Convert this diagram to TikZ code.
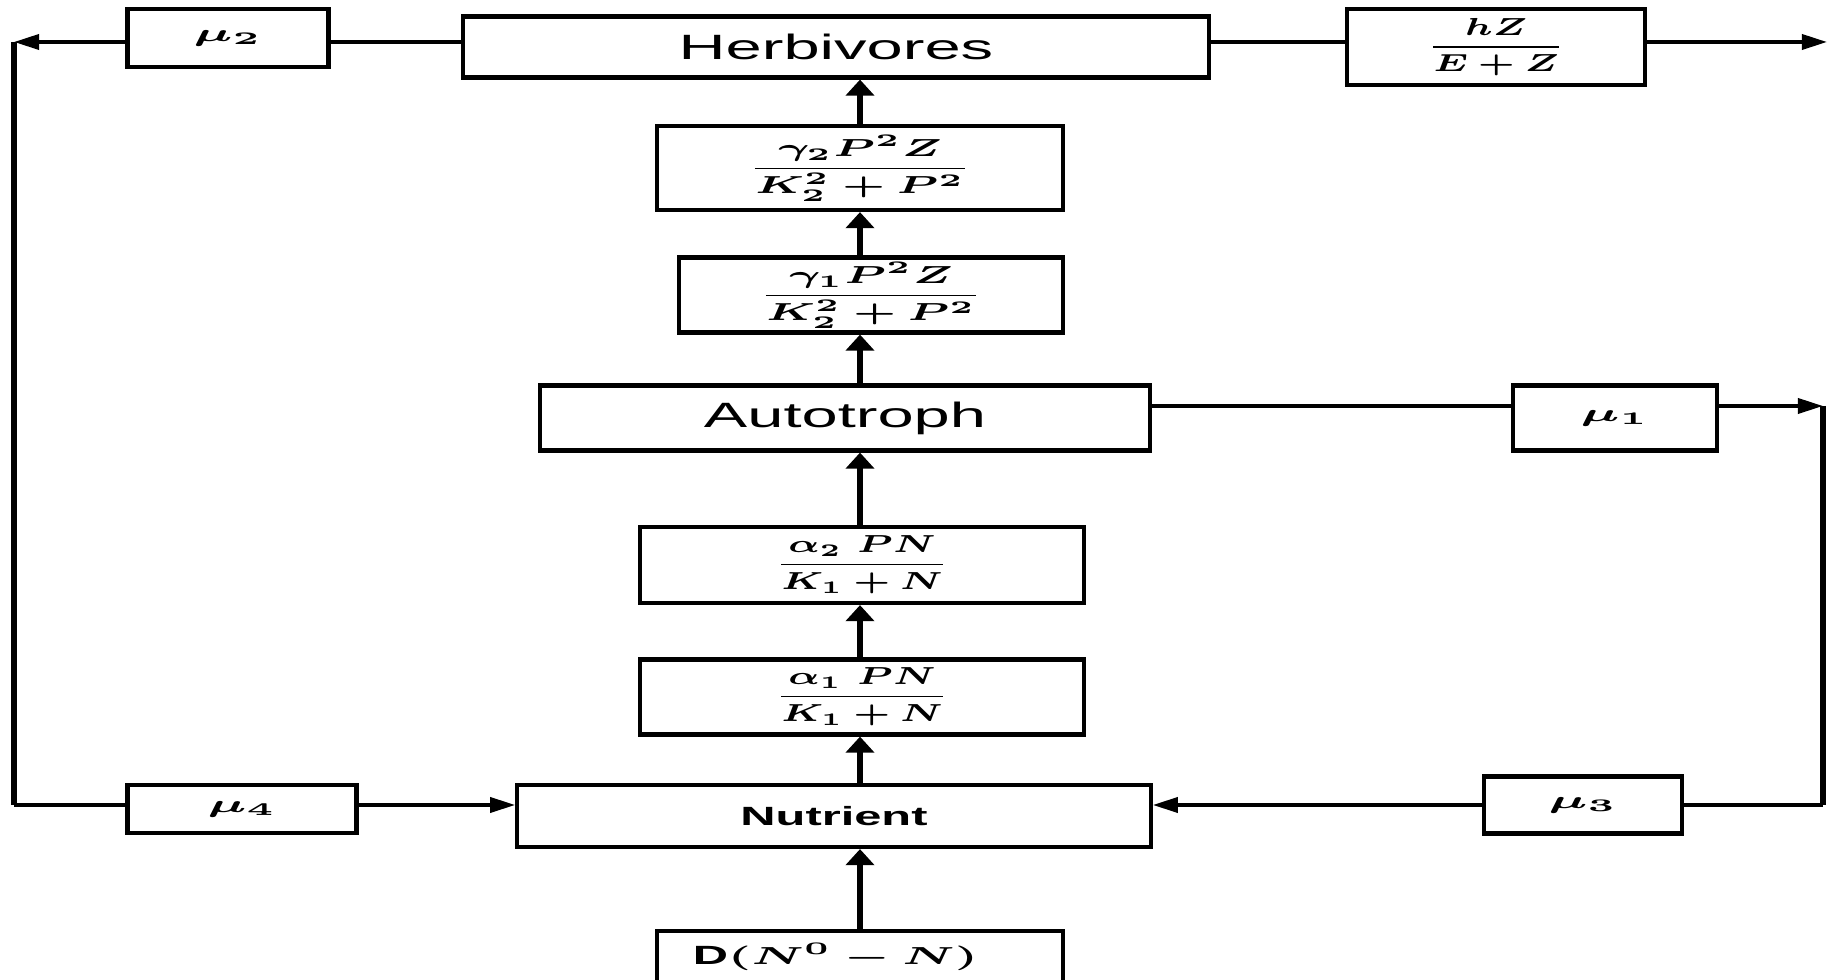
\documentclass[tikz,border=0pt]{standalone}
\usepackage{amsmath}
\usepackage{bm}
\usepackage{graphicx}
\usepackage{fontspec}
\setsansfont{Liberation Sans}
\usetikzlibrary{
    positioning,
    arrows.meta,
    calc
}

% the scan is stretched sideways, so every label is too
\newcommand{\wide}[1]{\scalebox{1.85}[1]{#1}}
\newcommand{\word}[1]{\wide{\fontsize{10}{12}\selectfont\sffamily #1}}
\newcommand{\rate}[2][1.85]{\scalebox{#1}[1]{\fontsize{7}{8}\selectfont$\displaystyle #2$}}

\begin{document}
\begin{tikzpicture}[
    x=0.01cm, y=-0.01cm,
    box/.style={rectangle, draw=black, line width=1.2pt, inner sep=0pt},
    hline/.style={line width=1pt},
    vline/.style={line width=1.5pt},
    harrow/.style={-{Triangle[length=0.25cm, width=0.15cm]}, line width=1pt},
    varrow/.style={-{Triangle[length=0.16cm, width=0.28cm]}, line width=1.5pt}
]
\clip (0,0) rectangle (1829,980);

% ============================================
% TOP ROW
% ============================================
\node[box, minimum width=7.45cm, minimum height=0.61cm] (herb) at (836,47) {\word{Herbivores}};
\node[box, minimum width=2.01cm, minimum height=0.58cm] (mu2) at (228,38) {\rate[2]{\bm{\mu_2}}};
\node[box, minimum width=2.98cm, minimum height=0.76cm] (hz) at (1496,47) {\rate[1.5]{\frac{\bm{hZ}}{\bm{E + Z}}}};

% ============================================
% CENTRAL COLUMN
% ============================================
\node[box, minimum width=4.06cm, minimum height=0.84cm] (g2) at (860,168) {\rate[1.75]{\frac{\bm{\gamma_2 P^2 Z}}{\bm{K_2^2 + P^2}}}};
\node[box, minimum width=3.84cm, minimum height=0.75cm] (g1) at (871,295) {\rate[1.75]{\frac{\bm{\gamma_1 P^2 Z}}{\bm{K_2^2 + P^2}}}};
\node[box, minimum width=6.10cm, minimum height=0.65cm] (auto) at (845,418) {\word{Autotroph}};
\node[box, minimum width=4.43cm, minimum height=0.76cm] (a2) at (862,565) {\rate[1.5]{\frac{\bm{\alpha_2\ PN}}{\bm{K_1 + N}}}};
\node[box, minimum width=4.43cm, minimum height=0.75cm] (a1) at (862,697) {\rate[1.5]{\frac{\bm{\alpha_1\ PN}}{\bm{K_1 + N}}}};
\node[box, minimum width=6.33cm, minimum height=0.62cm] (nutr) at (834,816) {\wide{\fontsize{7.5}{9}\selectfont\sffamily\bfseries Nutrient}};
\node[box, minimum width=4.06cm, minimum height=0.52cm, text width=3.34cm, align=left, inner xsep=0.36cm] (dbox) at (860,957)
    {\wide{\fontsize{7.5}{9}\selectfont\sffamily\bfseries D$\bm{(N^0 - N)}$}};

% ============================================
% SIDE BOXES
% ============================================
\node[box, minimum width=2.04cm, minimum height=0.65cm] (mu1) at (1615,418) {\rate[2]{\bm{\mu_1}}};
\node[box, minimum width=1.98cm, minimum height=0.57cm] (mu3) at (1583,805) {\rate[2]{\bm{\mu_3}}};
\node[box, minimum width=2.29cm, minimum height=0.48cm] (mu4) at (242,809) {\rate[2]{\bm{\mu_4}}};

% corners of the loops
\coordinate (spine) at (860,0);
\coordinate (ltop) at (14,42);
\coordinate (lbot) at (14,805);
\coordinate (rout) at (1827,42);
\coordinate (rtop) at (1823,406);
\coordinate (rbot) at (1823,805);

% upward flow
\draw[varrow] (dbox.north -| spine) -- (nutr.south -| spine);
\draw[varrow] (nutr.north -| spine) -- (a1.south -| spine);
\draw[varrow] (a1.north -| spine) -- (a2.south -| spine);
\draw[varrow] (a2.north -| spine) -- (auto.south -| spine);
\draw[varrow] (auto.north -| spine) -- (g1.south -| spine);
\draw[varrow] (g1.north -| spine) -- (g2.south -| spine);
\draw[varrow] (g2.north -| spine) -- (herb.south -| spine);

% herbivore losses
\draw[hline] (herb.west |- ltop) -- (mu2.east |- ltop);
\draw[harrow] (mu2.west |- ltop) -- (ltop);
\draw[hline] (herb.east |- ltop) -- (hz.west |- ltop);
\draw[harrow] (hz.east |- ltop) -- (rout);

% left recycling loop
\draw[vline] (ltop) -- (lbot);
\draw[hline] (lbot) -- (mu4.west |- lbot);
\draw[harrow] (mu4.east |- lbot) -- (nutr.west |- lbot);

% right recycling loop
\draw[hline] (auto.east |- rtop) -- (mu1.west |- rtop);
\draw[harrow] (mu1.east |- rtop) -- (rtop);
\draw[vline] (rtop) -- (rbot);
\draw[hline] (rbot) -- (mu3.east |- rbot);
\draw[harrow] (mu3.west |- rbot) -- (nutr.east |- rbot);

\end{tikzpicture}
\end{document}
